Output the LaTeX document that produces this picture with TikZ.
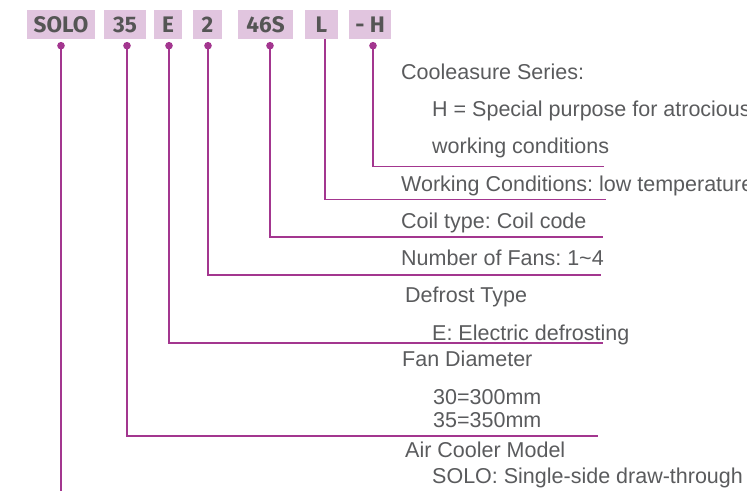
\documentclass[tikz,border=0pt]{standalone}
\usepackage{fontspec}
\setmainfont{Liberation Sans}
\newfontfamily\boxfont{Fira Sans}
\definecolor{linec}{HTML}{A3368F}
\definecolor{boxc}{HTML}{E1C5DF}
\definecolor{txtc}{HTML}{5A5B5D}
\definecolor{boxtxt}{HTML}{555555}
\tikzset{
  codebox/.style={fill=boxc, inner sep=0pt, minimum height=29pt, text=boxtxt,
    font=\boxfont\bfseries\fontsize{22.5}{22.5}\selectfont},
  desc/.style={anchor=base west, inner sep=0pt, text=txtc, font=\frenchspacing\fontsize{21.5}{25}\selectfont},
  lead/.style={draw=linec, line width=1.8pt},
  dotc/.style={fill=linec}
}
\begin{document}
\begin{tikzpicture}[x=1pt,y=-1pt]
\useasboundingbox (0,0) rectangle (747,491);
% code boxes
\node[codebox, minimum width=68pt] (bSOLO) at (61,24.5) {SOLO};
\node[codebox, minimum width=42pt] (b35) at (125,24.5) {35};
\node[codebox, minimum width=28pt] (bE) at (168,24.5) {E};
\node[codebox, minimum width=29pt] (b2) at (207.5,24.5) {2};
\node[codebox, minimum width=55pt] (b46) at (265.5,24.5) {46S};
\node[codebox, minimum width=33pt] (bL) at (321.5,24.5) {L};
\node[codebox, minimum width=42pt] (bH) at (370,24.5) {- H};
% dots
\coordinate (dSOLO) at (61,45.7);
\coordinate (d35) at (127,45.7);
\coordinate (dE) at (169,45.7);
\coordinate (d2) at (208,45.7);
\coordinate (d46) at (270,45.7);
\coordinate (dL) at (325,39);
\coordinate (dH) at (373,45.7);
% corners and ends
\coordinate (cH) at (373,166.5);  \coordinate (eH) at (604,166.5);
\coordinate (cL) at (325,199.5);  \coordinate (eL) at (606,199.5);
\coordinate (c46) at (270,237);   \coordinate (e46) at (603,237);
\coordinate (c2) at (208,275);    \coordinate (e2) at (601,275);
\coordinate (cE) at (169,343);    \coordinate (eE) at (603,343);
\coordinate (c35) at (127,436);   \coordinate (e35) at (598,436);
\coordinate (eSOLO) at (61,491);
% leaders
\draw[lead] (dH) -- (cH) -- (eH);
\draw[lead] (dL) -- (cL) -- (eL);
\draw[lead] (d46) -- (c46) -- (e46);
\draw[lead] (d2) -- (c2) -- (e2);
\draw[lead] (dE) -- (cE) -- (eE);
\draw[lead] (d35) -- (c35) -- (e35);
\draw[lead] (dSOLO) -- (eSOLO);
\foreach \d in {dSOLO,d35,dE,d2,d46,dH} \fill[dotc] (\d) circle (3.8pt);
% descriptions
\node[desc] (t1) at (401,79) {Cooleasure Series:};
\node[desc] (t2) at (432,116) {H = Special purpose for atrocious};
\node[desc] (t3) at (432,153) {working conditions};
\node[desc] (t4) at (401,191) {Working Conditions: low temperature};
\node[desc] (t5) at (401,228) {Coil type: Coil code};
\node[desc] (t6) at (401,265) {Number of Fans: 1\textasciitilde 4};
\node[desc] (t7) at (405,302) {Defrost Type};
\node[desc] (t8) at (432,340) {E: Electric defrosting};
\node[desc] (t9) at (402,366) {Fan Diameter};
\node[desc] (t10) at (433,404) {30=300mm};
\node[desc] (t11) at (433,427) {35=350mm};
\node[desc] (t12) at (405,457) {Air Cooler Model};
\node[desc] (t13) at (432,483) {SOLO: Single-side draw-through};
\end{tikzpicture}
\end{document}
